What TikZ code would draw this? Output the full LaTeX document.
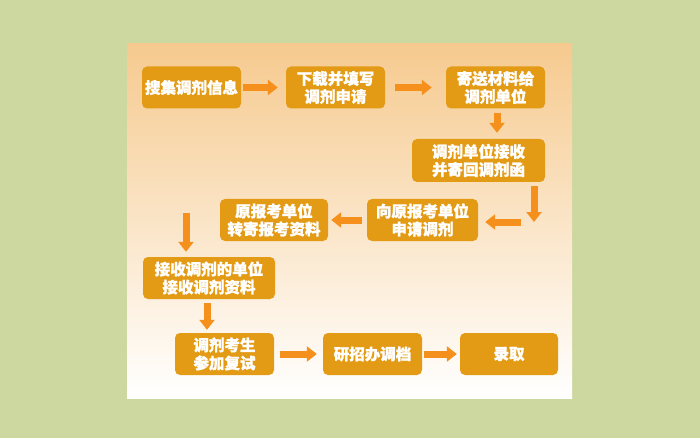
\documentclass[tikz,border=0pt]{standalone}
\usepackage{fontspec}
\newfontfamily\cjk{Noto Sans CJK SC}[BoldFeatures={FakeBold=1.2}]
\usepackage{tikz}
\usetikzlibrary{arrows.meta}
\definecolor{outer}{RGB}{205,216,160}
\definecolor{peach}{RGB}{246,202,143}
\definecolor{boxfill}{RGB}{227,155,22}
\definecolor{arrowc}{RGB}{246,144,28}

\begin{document}
\begin{tikzpicture}[x=1pt,y=-1pt,
    stepbox/.style={draw=none,fill=boxfill,rounded corners=5pt,text=white,
      font=\cjk\bfseries\fontsize{15.5}{18}\selectfont,align=center,
      minimum height=42pt,inner sep=0pt},
    flow/.style={draw=arrowc,line width=7pt,
      -{Triangle[length=10pt,width=15pt]}}]
    \useasboundingbox (0,0) rectangle (700,438);
    \fill[outer] (0,0) rectangle (700,438);
    \shade[top color=peach,middle color=peach!15!white,bottom color=white]
      (127,44) rectangle (572,398);
    \node[stepbox,minimum width=99pt] (s1) at (191.5,87.5) {搜集调剂信息};
    \node[stepbox,minimum width=99pt] (s2) at (335.5,87.5) {下载并填写\\调剂申请};
    \node[stepbox,minimum width=99pt] (s3) at (495.5,87.5) {寄送材料给\\调剂单位};
    \node[stepbox,minimum width=133pt,minimum height=43pt] (s4) at (478.5,160.5) {调剂单位接收\\并寄回调剂函};
    \node[stepbox,minimum width=111pt] (s5) at (422.5,220) {向原报考单位\\申请调剂};
    \node[stepbox,minimum width=108pt] (s6) at (274,220) {原报考单位\\转寄报考资料};
    \node[stepbox,minimum width=132pt] (s7) at (209,278) {接收调剂的单位\\接收调剂资料};
    \node[stepbox,minimum width=99pt] (s8) at (224.5,354) {调剂考生\\参加复试};
    \node[stepbox,minimum width=99pt] (s9) at (372.5,354) {研招办调档};
    \node[stepbox,minimum width=98pt] (s10) at (509,354) {录取};
    \coordinate (bend) at (534,222);
    \coordinate (drop) at (186,213);
    \draw[flow,shorten <=2pt,shorten >=8pt] (s1) -- (s2);
    \draw[flow,shorten <=10pt,shorten >=14pt] (s2) -- (s3);
    \draw[flow,shorten <=4pt,shorten >=6pt] (s3.south) ++(1.5,0) -- ([xshift=1.5pt]s3.south |- s4.north);
    \draw[flow,shorten <=4pt] (s4.south -| bend) -- (bend);
    \draw[flow,shorten <=13pt,shorten >=7pt] (bend) -- (s5.east |- bend);
    \draw[flow,shorten <=5pt,shorten >=3pt] (s5) -- (s6);
    \draw[flow,shorten >=5pt] (drop) -- (drop |- s7.north);
    \draw[flow,shorten <=4pt,shorten >=3pt] ([xshift=-2pt]s7.south) -- ([xshift=-2pt]s7.south |- s8.north);
    \draw[flow,shorten <=6pt,shorten >=6pt] (s8) -- (s9);
    \draw[flow,shorten <=2pt,shorten >=3pt] (s9) -- (s10);
  \end{tikzpicture}
\end{document}
